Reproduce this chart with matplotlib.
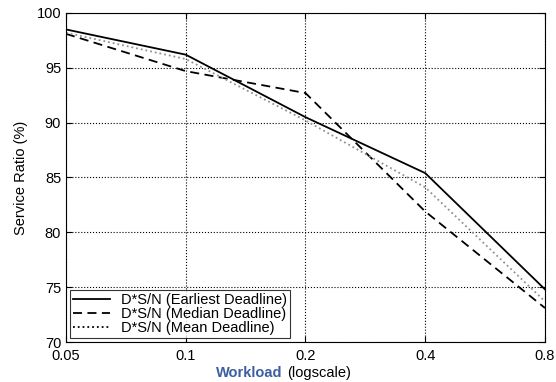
import matplotlib
matplotlib.use("Agg")
import matplotlib.pyplot as plt
from matplotlib.ticker import FixedLocator, FixedFormatter, NullLocator

plt.rcParams['font.family'] = ['Liberation Sans', 'DejaVu Sans']

workload = [0.05, 0.1, 0.2, 0.4, 0.8]
earliest = [98.5, 96.2, 90.5, 85.4, 74.8]
median = [98.1, 94.7, 92.7, 81.9, 73.1]
mean = [98.2, 95.8, 90.2, 84.1, 73.7]

xticks = [0.05, 0.1, 0.2, 0.4, 0.8]
xtick_labels = ['0.05', '0.1', '0.2', '0.4', '0.8']
yticks = [70, 75, 80, 85, 90, 95, 100]

fig = plt.figure(figsize=(5.56, 3.82), dpi=100)
ax = fig.add_axes([0.1187, 0.1047, 0.8615, 0.8613])

ax.plot(workload, earliest, 'k-', linewidth=1.3, label='D*S/N (Earliest Deadline)')
ax.plot(workload, median, 'k--', linewidth=1.3, dashes=(5, 3), label='D*S/N (Median Deadline)')
ax.plot(workload, mean, color='#909090', linestyle=':', linewidth=1.3, label='D*S/N (Mean Deadline)')

ax.set_xscale('log')
ax.set_xlim(0.05, 0.8)
ax.set_ylim(70, 100)
ax.xaxis.set_major_locator(FixedLocator(xticks))
ax.xaxis.set_major_formatter(FixedFormatter(xtick_labels))
ax.xaxis.set_minor_locator(NullLocator())
ax.set_yticks(yticks)
ax.tick_params(direction='in', top=True, right=True, labelsize=10.5, length=4)
ax.tick_params(axis='x', pad=5)
ax.grid(True, color='black', linestyle=':', linewidth=0.8)

ax.set_ylabel('Service Ratio (%)', fontsize=10.5, labelpad=6)
fig.text(0.508, 0.004, 'Workload', color='#3b5fa0', fontweight='bold', fontsize=10.5, ha='right', va='bottom')
fig.text(0.516, 0.004, '(logscale)', color='black', fontsize=10.5, ha='left', va='bottom')

leg = ax.legend(loc='lower left', fontsize=10.5, frameon=True, fancybox=False,
                edgecolor='black', borderpad=0.2, labelspacing=0.0,
                handlelength=2.5, borderaxespad=0.3)
leg.get_frame().set_linewidth(0.8)
for line in leg.get_lines():
    line.set_color('black')

fig.savefig('out.png', dpi=100)
